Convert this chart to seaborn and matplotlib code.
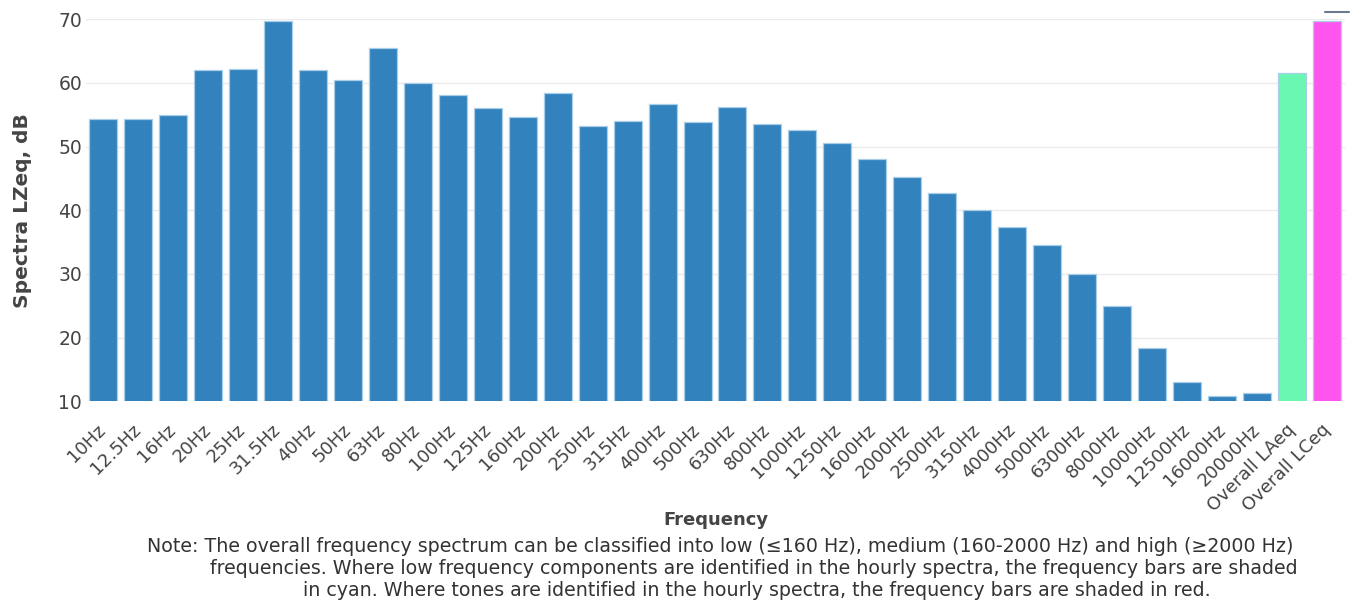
import matplotlib
matplotlib.use("Agg")
import matplotlib.pyplot as plt
from matplotlib.lines import Line2D
import seaborn as sns
import pandas as pd

# Frequency bands (1/3 octave) and overall levels
bands = ["10Hz", "12.5Hz", "16Hz", "20Hz", "25Hz", "31.5Hz", "40Hz", "50Hz", "63Hz",
         "80Hz", "100Hz", "125Hz", "160Hz", "200Hz", "250Hz", "315Hz", "400Hz", "500Hz",
         "630Hz", "800Hz", "1000Hz", "1250Hz", "1600Hz", "2000Hz", "2500Hz", "3150Hz",
         "4000Hz", "5000Hz", "6300Hz", "8000Hz", "10000Hz", "12500Hz", "16000Hz",
         "20000Hz", "Overall LAeq", "Overall LCeq"]

levels_db = [54.4, 54.4, 55.0, 62.0, 62.2, 69.8, 62.0, 60.4, 65.5,
             60.0, 58.1, 56.1, 54.6, 58.5, 53.3, 54.1, 56.7, 53.9,
             56.3, 53.6, 52.6, 50.5, 48.1, 45.2, 42.7, 40.1,
             37.3, 34.6, 30.0, 25.0, 18.3, 13.0, 10.9,
             11.3, 61.5, 69.8]

band_color = "#3182bd"
laeq_color = "#6af7b1"
lceq_color = "#ff55ee"
bar_colors = [band_color] * 34 + [laeq_color, lceq_color]

df = pd.DataFrame({"band": bands, "level": levels_db})

sns.set_theme(style="white")
plt.rcParams["font.family"] = ["DejaVu Sans"]

W, H = 1352, 606
fig = plt.figure(figsize=(W / 100, H / 100), dpi=100)
left, right, top, bottom = 85.5, 1344.5, 19.3, 401.3
ax = fig.add_axes([left / W, 1 - bottom / H, (right - left) / W, (bottom - top) / H])

sns.barplot(data=df, x="band", y="level", hue="band", palette=bar_colors,
            legend=False, width=0.8, saturation=1, ax=ax,
            edgecolor="#a9cfe8", linewidth=0.9, zorder=3)

ax.set_ylim(10, 70)
ax.set_xlim(-0.5, len(bands) - 0.5)
ax.set_yticks(range(10, 71, 10))
ax.grid(axis="y", color="#ebebeb", linewidth=1, zorder=0)
ax.set_axisbelow(True)
for s in ax.spines.values():
    s.set_visible(False)

text_col = "#444444"
ax.tick_params(axis="y", length=0, pad=2.5, labelsize=13.5, labelcolor=text_col)
ax.tick_params(axis="x", length=6.5, width=1, color=text_col, pad=12,
               labelsize=13, labelcolor=text_col, direction="out")
ax.set_xticks(range(len(bands)))
ax.set_xticklabels(bands, rotation=45, ha="right", va="center", rotation_mode="anchor")

ax.set_xlabel("")
ax.set_ylabel("Spectra LZeq, dB", fontsize=14.5, fontweight="bold", color=text_col)
ax.yaxis.set_label_coords(-0.0425, 0.5)

fig.text(715.5 / W, 1 - 520 / H, "Frequency", ha="center", va="center",
         fontsize=13, fontweight="bold", color=text_col)

note_lines = [
    ("Note: The overall frequency spectrum can be classified into low (\u2264160 Hz), "
     "medium (160-2000 Hz) and high (\u22652000 Hz)", 720, 546),
    ("frequencies. Where low frequency components are identified in the hourly spectra, "
     "the frequency bars are shaded", 754, 568),
    ("in cyan. Where tones are identified in the hourly spectra, the frequency bars are "
     "shaded in red.", 757, 591),
]
for txt, cx, cy in note_lines:
    fig.text(cx / W, 1 - cy / H, txt, ha="center", va="center",
             fontsize=13.7, color="#333333")

# small toolbar stroke in the top-right corner
fig.add_artist(Line2D([1325 / W, 1349 / W], [1 - 12 / H, 1 - 12 / H],
                      color="#6b7a8f", linewidth=1.5))

fig.savefig("out.png", dpi=100)
